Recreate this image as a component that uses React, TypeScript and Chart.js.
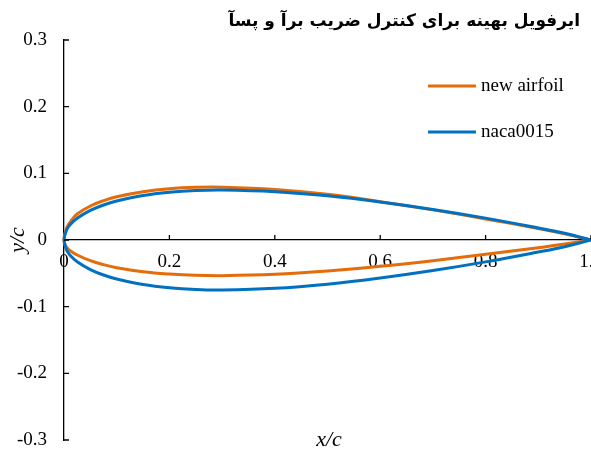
import React, { useEffect, useRef } from "react";
import { Chart, registerables } from "chart.js";

Chart.register(...registerables);

// ---- data ----
const titleText = "ایرفویل بهینه برای کنترل ضریب برآ و پسآ";
const xAxisTitle = "x/c";
const yAxisTitle = "y/c";
const seriesNames = ["new airfoil", "naca0015"];
const seriesColors = ["#E46C0A", "#0070C0"];

// chordwise stations x/c
const stations = [0, 0.005, 0.0125, 0.025, 0.05, 0.075, 0.1, 0.15, 0.2, 0.25, 0.3, 0.4, 0.5, 0.6, 0.7, 0.8, 0.9, 0.95, 1.0];
// new airfoil
const newUpper = [0, 0.018, 0.028, 0.039, 0.051, 0.059, 0.065, 0.0725, 0.077, 0.079, 0.0792, 0.0758, 0.0685, 0.0575, 0.0452, 0.0316, 0.0172, 0.0092, 0];
const newLower = [0, -0.011, -0.0165, -0.0225, -0.031, -0.037, -0.0415, -0.0475, -0.051, -0.053, -0.0535, -0.0515, -0.0465, -0.0395, -0.031, -0.0215, -0.0115, -0.006, 0];
// naca0015
const nacaUpper = [0, 0.0153, 0.0237, 0.0327, 0.0444, 0.0525, 0.0585, 0.0668, 0.0717, 0.0743, 0.075, 0.0725, 0.0662, 0.057, 0.0458, 0.0328, 0.0181, 0.0101, 0];
const nacaLower = [0, -0.0153, -0.0237, -0.0327, -0.0444, -0.0525, -0.0585, -0.0668, -0.0717, -0.0743, -0.075, -0.0725, -0.0662, -0.057, -0.0458, -0.0328, -0.0181, -0.0101, 0];

const xMin = 0;
const xMax = 1;
const xStep = 0.2;
const yMin = -0.3;
const yMax = 0.3;
const yStep = 0.1;

function contour(up: number[], low: number[]) {
  const pts: { x: number; y: number }[] = [];
  for (let i = stations.length - 1; i >= 0; i--) pts.push({ x: stations[i], y: up[i] });
  for (let i = 1; i < stations.length; i++) pts.push({ x: stations[i], y: low[i] });
  return pts;
}

const SERIF = '"Liberation Serif", "Times New Roman", serif';

const decorations = {
  id: "decorations",
  beforeDraw(chart: any) {
    const ctx = chart.ctx;
    ctx.save();
    ctx.fillStyle = "#ffffff";
    ctx.fillRect(0, 0, chart.width, chart.height);
    ctx.restore();
  },
  afterDraw(chart: any) {
    const ctx = chart.ctx;
    const xs = chart.scales.x;
    const ys = chart.scales.y;
    const y0 = ys.getPixelForValue(0);
    const left = chart.chartArea.left;
    ctx.save();
    // inside tick marks
    ctx.strokeStyle = "#000";
    ctx.lineWidth = 1.3;
    ctx.beginPath();
    xs.ticks.forEach((t: any) => {
      const px = xs.getPixelForValue(t.value);
      if (t.value === 0) return;
      ctx.moveTo(px, y0);
      ctx.lineTo(px, y0 - 5);
    });
    ys.ticks.forEach((t: any) => {
      const py = ys.getPixelForValue(t.value);
      ctx.moveTo(left, py);
      ctx.lineTo(left + 5, py);
    });
    ctx.stroke();

    // title
    ctx.fillStyle = "#000";
    ctx.font = 'bold 17px "DejaVu Sans", sans-serif';
    ctx.textAlign = "right";
    ctx.textBaseline = "middle";
    (ctx as any).direction = "rtl";
    ctx.fillText(titleText, 580, 22);
    (ctx as any).direction = "ltr";

    // x axis title
    ctx.font = "italic 22px " + SERIF;
    ctx.textAlign = "center";
    ctx.textBaseline = "middle";
    ctx.fillText(xAxisTitle, 329, 440);

    // legend
    ctx.font = "19px " + SERIF;
    ctx.textAlign = "left";
    chart.data.datasets.forEach((ds: any, i: number) => {
      const ly = 86 + i * 46;
      ctx.strokeStyle = ds.borderColor;
      ctx.lineWidth = 3;
      ctx.beginPath();
      ctx.moveTo(428, ly);
      ctx.lineTo(476, ly);
      ctx.stroke();
      ctx.fillStyle = "#000";
      ctx.fillText(ds.label, 481, ly);
    });
    ctx.restore();
  },
};

export default function App() {
  const ref = useRef<HTMLCanvasElement>(null);
  useEffect(() => {
    const chart = new Chart(ref.current as HTMLCanvasElement, {
      type: "scatter",
      data: {
        datasets: [
          {
            label: seriesNames[0],
            data: contour(newUpper, newLower),
            borderColor: seriesColors[0],
            backgroundColor: seriesColors[0],
            borderWidth: 3,
            showLine: true,
            pointRadius: 0,
            tension: 0.4,
            order: 1,
            clip: 6,
          },
          {
            label: seriesNames[1],
            data: contour(nacaUpper, nacaLower),
            borderColor: seriesColors[1],
            backgroundColor: seriesColors[1],
            borderWidth: 3,
            showLine: true,
            pointRadius: 0,
            tension: 0.4,
            order: 0,
            clip: 6,
          },
        ],
      } as any,
      options: {
        animation: false,
        responsive: false,
        devicePixelRatio: 1,
        layout: { padding: { top: 40, bottom: 14, left: 0, right: 0 } },
        plugins: {
          legend: { display: false },
          title: { display: false },
          tooltip: { enabled: false },
        },
        scales: {
          x: {
            type: "linear",
            position: { y: 0 } as any,
            min: xMin,
            max: xMax,
            ticks: {
              stepSize: xStep,
              color: "#000",
              font: { family: SERIF, size: 19 },
              padding: 11,
              maxRotation: 0,
            },
            grid: { display: false, drawTicks: false },
            border: { display: true, color: "#000", width: 1.3 },
            afterFit: (s: any) => {
              s.paddingLeft = 0;
              s.paddingRight = 0;
              s.height = 0;
            },
          },
          y: {
            type: "linear",
            position: "left",
            min: yMin,
            max: yMax,
            ticks: {
              stepSize: yStep,
              color: "#000",
              font: { family: SERIF, size: 19 },
              padding: 17,
            },
            grid: { display: false, drawTicks: false },
            border: { display: true, color: "#000", width: 1.3 },
            title: {
              display: true,
              text: yAxisTitle,
              color: "#000",
              font: { family: SERIF, size: 22, style: "italic" },
              padding: { top: 5, bottom: 0 },
            },
            afterFit: (s: any) => {
              s.width = 64;
              s.paddingTop = 0;
              s.paddingBottom = 0;
            },
          },
        } as any,
      },
      plugins: [decorations],
    });
    return () => chart.destroy();
  }, []);
  return (
    <div style={{ position: "fixed", left: 0, top: 0, width: 591, height: 454, background: "#fff" }}>
      <canvas ref={ref} width={591} height={454} style={{ display: "block", width: 591, height: 454 }} />
    </div>
  );
}
